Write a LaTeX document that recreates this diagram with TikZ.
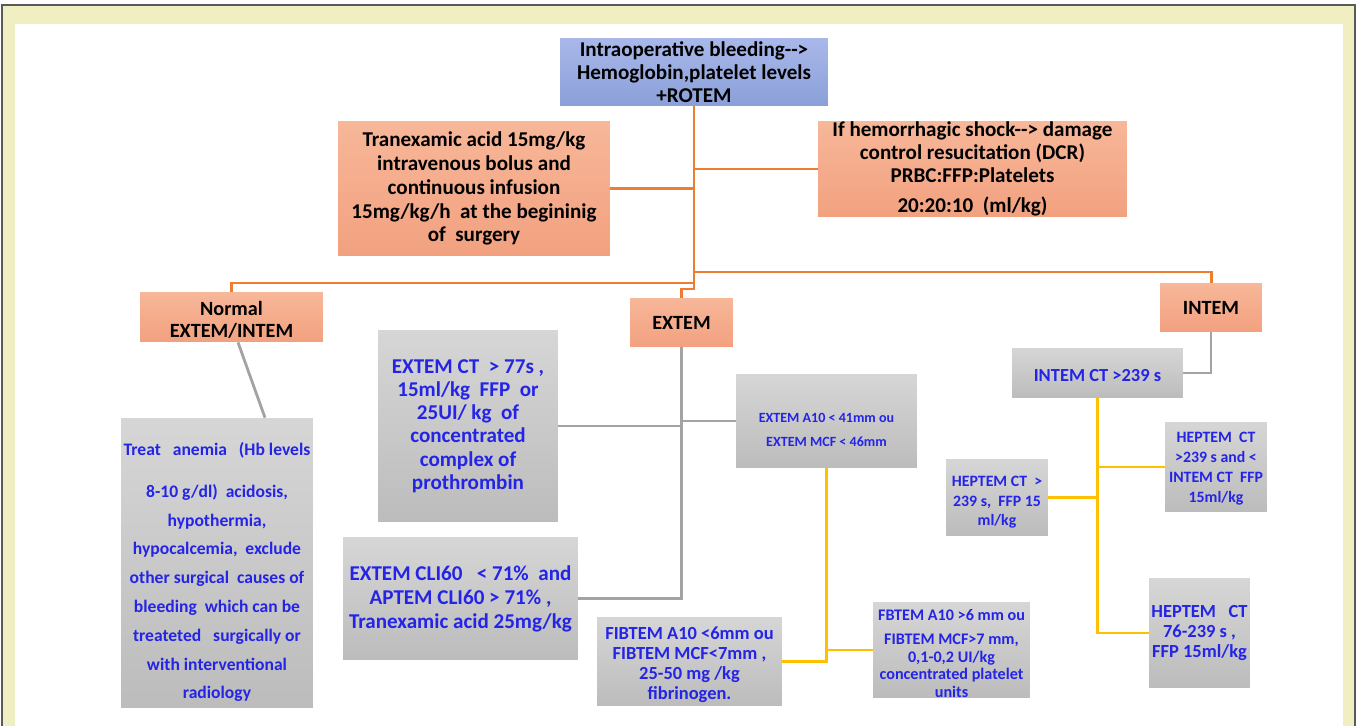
\documentclass[tikz,border=0pt]{standalone}
\usepackage{fontspec}
\setmainfont{Carlito}
\usepackage{tikz}
\newcommand{\boxfont}[2]{\fontsize{#1}{#2}\selectfont\bfseries}
\newcommand{\topgap}[1]{\rule{0pt}{#1}}
\definecolor{c_frame}{HTML}{EFEFC1}
\definecolor{c_rule}{HTML}{5A5A5A}
\definecolor{c_blue_t}{HTML}{A9B8E9}
\definecolor{c_blue_b}{HTML}{8A9FD9}
\definecolor{c_salmon_t}{HTML}{F7B799}
\definecolor{c_salmon_b}{HTML}{F2A17F}
\definecolor{c_gray_t}{HTML}{D6D6D6}
\definecolor{c_gray_b}{HTML}{BCBCBC}
\definecolor{c_text}{HTML}{2424E6}
\definecolor{c_orange}{HTML}{ED7D31}
\definecolor{c_grayline}{HTML}{A3A3A3}
\definecolor{c_yellow}{HTML}{FFC000}
\tikzset{c-box/.style={rectangle, inner sep=0pt, align=center},
c-top/.style={c-box, top color=c_blue_t, bottom color=c_blue_b, text=black},
c-step/.style={c-box, top color=c_salmon_t, bottom color=c_salmon_b, text=black},
c-test/.style={c-box, top color=c_gray_t, bottom color=c_gray_b, text=c_text},
l-orange/.style={line width=1.7pt, draw=c_orange},
l-gray/.style={line width=1.6pt, draw=c_grayline},
l-yellow/.style={line width=1.6pt, draw=c_yellow}}

\begin{document}
\begin{tikzpicture}[x=0.02cm, y=-0.02cm]
\useasboundingbox (0,0) rectangle (1357,726);
% frame
\fill [c_frame, draw=c_rule, line width=0.6pt] (2,5) rectangle (1355,740);
\fill [white] (15,24) rectangle (1343,740);

% boxes
\node (top) [c-top, minimum width=5.36cm, minimum height=1.36cm, font={\boxfont{12}{13}}] at (694,72)
{Intraoperative bleeding-{}->\\Hemoglobin,platelet levels\\+ROTEM};
\node (tranex) [c-step, minimum width=5.44cm, minimum height=2.70cm, font={\boxfont{12}{13.6}}] at (474,188.5)
{Tranexamic acid 15mg/kg\\intravenous bolus and\\continuous infusion\\15mg/kg/h\ \ at the begininig\\of\ \ surgery};
\node (shock) [c-step, minimum width=6.18cm, minimum height=1.92cm, font={\boxfont{12}{13}}] at (972.5,169)
{If hemorrhagic shock-{}-> damage\\control resucitation (DCR)\\PRBC:FFP:Platelets\\[4pt]20:20:10\ \ (ml/kg)};
\node (normal) [c-step, minimum width=3.66cm, minimum height=1.00cm, font={\boxfont{11.5}{12.5}}] at (231.5,317)
{\topgap{11.4pt}Normal\\EXTEM/INTEM};
\node (extem) [c-step, minimum width=2.06cm, minimum height=0.98cm, font={\boxfont{11.5}{12.5}}] at (681.5,322.5) {EXTEM};
\node (intem) [c-step, minimum width=2.04cm, minimum height=0.98cm, font={\boxfont{11.5}{12.5}}] at (1211,307.5) {INTEM};

\node (treat) [c-test, minimum width=3.84cm, minimum height=5.80cm, font={\boxfont{10}{16.4}}] at (217,563)
{\topgap{17.7pt}Treat\ \ \ anemia\ \ \ (Hb levels\\[7.5pt]8-10 g/dl)\ \ acidosis,\\hypothermia,\\hypocalcemia,\ \ exclude\\other surgical\ \ causes of\\bleeding\ \ which can be\\treateted\ \ \ surgically or\\with interventional\\radiology};
\node (extct) [c-test, minimum width=3.60cm, minimum height=3.84cm, font={\boxfont{12}{13.2}}] at (468,426)
{EXTEM CT\ \ > 77s ,\\15ml/kg\ \ FFP\ \ or\\25UI/ kg\ \ of\\concentrated\\complex of\\prothrombin};
\node (cli) [c-test, minimum width=4.70cm, minimum height=2.46cm, font={\boxfont{12}{13.6}}] at (460.5,598.5)
{EXTEM CLI60\ \ \ < 71\%\ \ and\\APTEM CLI60 > 71\% ,\\Tranexamic acid 25mg/kg};
\node (a10) [c-test, minimum width=3.62cm, minimum height=1.88cm, font={\boxfont{8}{13.6}}] at (826.5,421)
{\topgap{15pt}EXTEM A10 < 41mm ou\\EXTEM MCF < 46mm};
\node (fib) [c-test, minimum width=3.70cm, minimum height=1.78cm, font={\boxfont{10.5}{11.4}}] at (689.5,661.5)
{\topgap{11.3pt}FIBTEM A10 <6mm ou\\FIBTEM MCF<7mm ,\\25-50 mg /kg\\fibrinogen.};
\node (fbt) [c-test, minimum width=3.14cm, minimum height=1.88cm, font={\boxfont{9.2}{10}}] at (951.5,650)
{\topgap{10.4pt}FBTEM A10 >6 mm ou\\[3.5pt]FIBTEM MCF>7 mm,\\0,1-0,2 UI/kg\\concentrated platelet\\units};
\node (intct) [c-test, minimum width=3.42cm, minimum height=1.00cm, font={\boxfont{10.5}{12}}] at (1097.5,373)
{\topgap{10.2pt}INTEM CT >239 s};
\node (hep1) [c-test, minimum width=2.04cm, minimum height=1.54cm, font={\boxfont{9}{11}}] at (997,497.5)
{\topgap{11.5pt}HEPTEM CT\ \ >\\239 s,\ \ FFP 15\\ml/kg};
\node (hep2) [c-test, minimum width=2.04cm, minimum height=1.80cm, font={\boxfont{9}{11.4}}] at (1216,467)
{\topgap{8pt}HEPTEM\ \ CT\\>239 s and <\\INTEM CT\ \ FFP\\15ml/kg};
\node (hep3) [c-test, minimum width=2.02cm, minimum height=2.20cm, font={\boxfont{10.5}{11.4}}] at (1199.5,633)
{HEPTEM\ \ \ CT\\76-239 s ,\\FFP 15ml/kg};

% orange tree
\coordinate (tk) at (694,289);
\coordinate (tl) at (694,283);
\coordinate (tr) at (694,272);
\draw [l-orange] (top.south) -- (tk) -| (extem.north);
\draw [l-orange] (tranex.east) -- (tranex.east -| top.south);
\draw [l-orange] (shock.west) -- (shock.west -| top.south);
\draw [l-orange] (tl) -| (normal.north);
\draw [l-orange] (tr) -| (intem.north);

% gray links
\draw [l-gray] ([xshift=0.13cm]normal.south) -- ([xshift=0.96cm]treat.north);
\draw [l-gray] (extem.south) |- (cli.east);
\draw [l-gray] (extct.east) -- (extct.east -| extem.south);
\draw [l-gray] (a10.west) -- (a10.west -| extem.south);
\draw [l-gray] (intem.south) |- (intct.east);

% yellow links
\draw [l-yellow] (a10.south) |- (fib.east);
\draw [l-yellow] (fbt.west) -- (fbt.west -| a10.south);
\draw [l-yellow] (intct.south) |- (hep3.west);
\draw [l-yellow] (hep2.west) -- (hep2.west -| intct.south);
\draw [l-yellow] (hep1.east) -- (hep1.east -| intct.south);
\end{tikzpicture}
\end{document}
